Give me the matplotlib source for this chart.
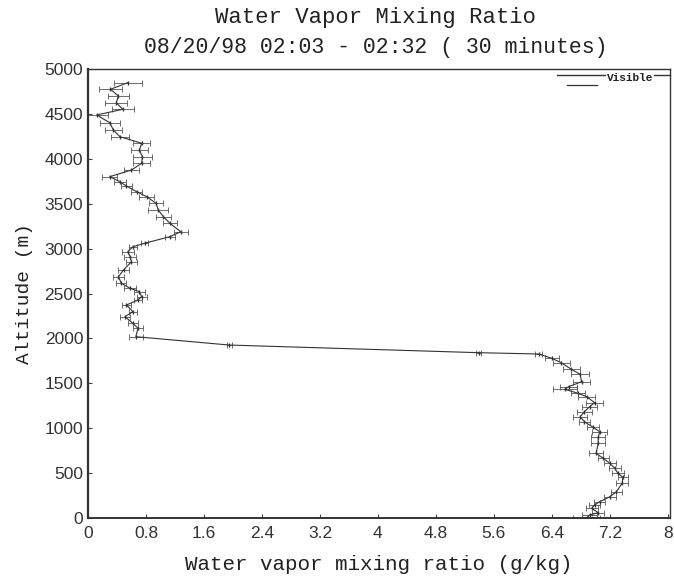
import matplotlib
matplotlib.use("Agg")
import matplotlib.pyplot as plt

# Profile, bottom to top
ALTITUDE_M = [
    0, 33, 59, 108, 145, 182, 237, 293, 386, 453, 498, 553, 609, 665, 720,
    832, 899, 961, 1010, 1072, 1128, 1184, 1239, 1284, 1351, 1389, 1433,
    1462, 1518, 1600, 1656, 1729, 1778, 1826, 1841, 1926, 2019,
    2112, 2168, 2242, 2297, 2372, 2428, 2464, 2520, 2558, 2614, 2687, 2762,
    2854, 2910, 2966, 3021, 3059, 3133, 3188, 3282, 3355, 3430, 3504, 3578,
    3634, 3697, 3745, 3801, 3875, 3950, 4023, 4098, 4173, 4246, 4321, 4402,
    4488, 4551, 4625, 4699, 4774, 4848,
]
MIXING_RATIO = [
    6.88, 6.92, 7.04, 6.95, 6.99, 7.06, 7.20, 7.29, 7.37, 7.38, 7.31, 7.27,
    7.20, 7.11, 7.01, 7.04, 7.04, 7.06, 6.97, 6.85, 6.79, 6.85, 6.92, 6.99,
    6.88, 6.76, 6.58, 6.63, 6.81, 6.79, 6.67, 6.53, 6.40, 6.22, 5.39, 1.95,
    0.66,
    0.69, 0.62, 0.51, 0.62, 0.53, 0.69, 0.74, 0.71, 0.58, 0.46, 0.42, 0.49,
    0.60, 0.58, 0.55, 0.62, 0.78, 1.13, 1.28, 1.13, 1.04, 0.97, 0.94, 0.81,
    0.67, 0.53, 0.44, 0.30, 0.60, 0.74, 0.75, 0.71, 0.74, 0.44, 0.35, 0.30,
    0.12, 0.48, 0.39, 0.42, 0.31, 0.55,
]
ERROR = [
    0.19, 0.10, 0.08, 0.08, 0.08, 0.08, 0.08, 0.08, 0.08, 0.07, 0.08, 0.08,
    0.08, 0.08, 0.10, 0.10, 0.10, 0.10, 0.08, 0.08, 0.10, 0.10, 0.10, 0.12,
    0.12, 0.10, 0.17, 0.12, 0.12, 0.12, 0.12, 0.12, 0.10, 0.05, 0.03, 0.03,
    0.10,
    0.07, 0.07, 0.07, 0.06, 0.06, 0.05, 0.07, 0.08, 0.08, 0.07, 0.07, 0.07,
    0.08, 0.08, 0.08, 0.05, 0.05, 0.07, 0.10, 0.10, 0.10, 0.14, 0.10, 0.10,
    0.08, 0.08, 0.08, 0.10, 0.10, 0.12, 0.13, 0.12, 0.12, 0.12, 0.12, 0.14,
    0.15, 0.15, 0.15, 0.15, 0.16, 0.19,
]
X_TICKS = [0, 0.8, 1.6, 2.4, 3.2, 4, 4.8, 5.6, 6.4, 7.2, 8]
X_TICK_LABELS = ["0", "0.8", "1.6", "2.4", "3.2", "4", "4.8", "5.6", "6.4", "7.2", "8"]
Y_TICKS = [0, 500, 1000, 1500, 2000, 2500, 3000, 3500, 4000, 4500, 5000]

MONO = "Liberation Mono"
SANS = "Liberation Sans"
INK = "#222222"

fig = plt.figure(figsize=(6.74, 5.81), dpi=100)
ax = fig.add_axes([88 / 674, 63 / 581, 582 / 674, 449 / 581])

ax.errorbar(
    MIXING_RATIO,
    ALTITUDE_M,
    xerr=ERROR,
    color="#333333",
    linewidth=0.8,
    elinewidth=0.6,
    capsize=2.0,
    capthick=0.6,
    ecolor="#555555",
    marker="|",
    markersize=2.5,
)

ax.set_xlim(0, 8.03)
ax.set_ylim(0, 5000)
ax.set_xticks(X_TICKS)
ax.set_xticklabels(X_TICK_LABELS, fontfamily=SANS, fontsize=12.5, color="#333333")
ax.set_yticks(Y_TICKS)
ax.set_yticklabels([str(v) for v in Y_TICKS], fontfamily=SANS, fontsize=12.5,
                   color="#333333")
ax.tick_params(axis="both", direction="in", length=3, width=0.8, color="#444444")
ax.tick_params(axis="x", pad=6)
ax.tick_params(axis="y", pad=3.5)

for side, lw in [("left", 1.6), ("bottom", 1.4), ("top", 1.0), ("right", 1.0)]:
    ax.spines[side].set_linewidth(lw)
    ax.spines[side].set_color("#333333")

ax.set_xlabel("Water vapor mixing ratio (g/kg)", fontfamily=MONO, fontsize=15,
              color=INK, labelpad=10)
ax.set_ylabel("Altitude (m)", fontfamily=MONO, fontsize=14, color=INK, labelpad=8)

fig.text(0.557, 1 - 18 / 581, "Water Vapor Mixing Ratio", ha="center", va="center",
         fontfamily=MONO, fontsize=16, color=INK)
fig.text(0.557, 1 - 47 / 581, "08/20/98 02:03 - 02:32 ( 30 minutes)", ha="center",
         va="center", fontfamily=MONO, fontsize=15.5, color=INK)

# legend in the plotting-package style: label sits on the box's top border
ax.plot([0.805, 0.889], [0.9866, 0.9866], transform=ax.transAxes, color="#333333",
        linewidth=1.0, clip_on=False)
ax.plot([0.973, 1.0], [0.9866, 0.9866], transform=ax.transAxes, color="#333333",
        linewidth=1.0, clip_on=False)
ax.plot([0.823, 0.875], [0.964, 0.964], transform=ax.transAxes, color="#333333",
        linewidth=0.9)
ax.text(0.931, 0.981, "Visible", transform=ax.transAxes, ha="center", va="center",
        fontfamily=MONO, fontweight="bold", fontsize=8, color=INK)

fig.savefig("out.png", dpi=100)
